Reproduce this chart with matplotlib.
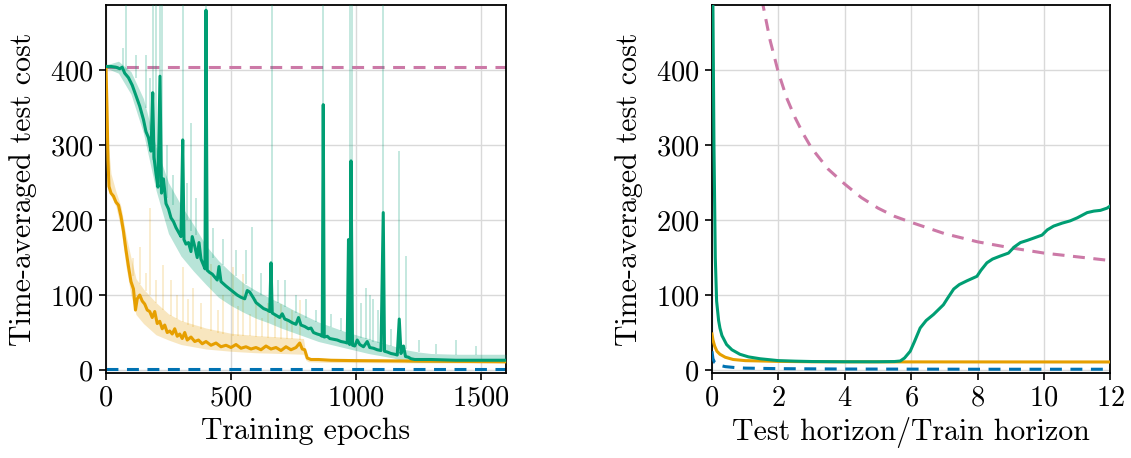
import numpy as np
import matplotlib
matplotlib.use('Agg')
from matplotlib import pyplot as plt

# === COLOURS === #
GREEN = '#009E73'
ORANGE = '#E69F00'
BLUE = '#0072B2'
PINK = '#CC79A7'

# === DATA: left panel (training curves) === #
green_epochs = [0, 20, 40, 55, 65, 75, 90, 105, 120, 135, 150, 160, 170, 180, 187, 192, 200, 208, 216, 222,
                230, 240, 250, 260, 270, 280, 290, 300, 307, 312, 320, 330, 340, 345, 355, 365, 372, 380, 390, 396,
                400, 405, 415, 425, 435, 445, 452, 460, 470, 480, 495, 510, 525, 540, 555, 565, 575, 590, 600, 615,
                630, 645, 655, 660, 665, 680, 695, 705, 715, 730, 745, 760, 770, 780, 795, 810, 820, 830, 845, 855,
                865, 869, 873, 885, 895, 910, 925, 940, 955, 965, 970, 975, 980, 986, 995, 1005, 1015, 1030, 1045, 1055,
                1070, 1085, 1100, 1109, 1114, 1125, 1140, 1155, 1165, 1173, 1180, 1190, 1198, 1210, 1220, 1235, 1260, 1300, 1350, 1400,
                1450, 1500, 1550, 1600]
green_mean = [405, 405, 404, 402, 404, 396, 390, 380, 366, 352, 334, 318, 310, 292, 370, 284, 262, 244, 392, 236,
              255, 222, 215, 203, 198, 190, 184, 178, 307, 174, 168, 170, 158, 178, 165, 150, 170, 148, 140, 135,
              480, 133, 130, 128, 124, 120, 138, 118, 115, 112, 108, 104, 100, 97, 95, 106, 104, 96, 90, 86,
              82, 80, 78, 143, 76, 73, 70, 75, 68, 66, 63, 61, 70, 60, 58, 55, 56, 50, 48, 47,
              45, 354, 44, 45, 42, 41, 40, 38, 37, 36, 174, 34, 279, 33, 32, 40, 34, 31, 38, 30,
              29, 27, 26, 210, 25, 24, 22, 21, 20, 68, 22, 32, 18, 17, 15, 14, 14, 14, 13.5, 13,
              13, 13, 13, 13]

band_epochs = [0, 50, 100, 150, 200, 250, 300, 350, 400, 450, 500, 550, 600, 650, 700, 750, 800, 850, 900, 950,
               1000, 1050, 1100, 1150, 1200, 1250, 1300, 1400, 1500, 1600]
green_lo = [403, 396, 368, 316, 240, 182, 152, 132, 114, 97, 86, 77, 69, 63, 56, 50, 44, 38, 34, 30,
            26, 22, 19, 16, 11, 10, 10, 10, 10, 10]
green_hi = [407, 412, 398, 362, 298, 250, 220, 194, 166, 146, 130, 116, 106, 97, 89, 80, 72, 64, 58, 52,
            47, 42, 37, 32, 27, 24, 22, 21, 21, 21]

green_spike_epochs = [70, 79, 120, 160, 175, 187, 200, 216, 226, 245, 270, 307, 325, 340, 360, 400, 430, 470, 520,
                      560, 583, 620, 663, 690, 715, 760, 800, 840, 869, 900, 940, 976, 986, 1020, 1040, 1055, 1070,
                      1090, 1109, 1140, 1173, 1200, 1250, 1320, 1400, 1480]
green_spike_base = [405, 400, 390, 350, 320, 280, 260, 250, 240, 230, 220, 210, 200, 185, 180, 160, 150, 140, 125,
                    115, 105, 100, 94, 90, 84, 76, 70, 64, 62, 58, 52, 46, 45, 43, 42, 40, 38,
                    36, 35, 32, 30, 28, 24, 22, 20, 20]
green_spike_top = [430, 500, 420, 420, 390, 500, 500, 500, 500, 300, 260, 500, 250, 330, 230, 500, 190, 175, 160,
                   160, 191, 130, 500, 120, 120, 100, 95, 80, 500, 75, 70, 500, 500, 90, 110, 100, 95,
                   80, 500, 55, 292, 152, 40, 35, 40, 32]

orange_epochs = [0, 4, 8, 12, 20, 30, 40, 50, 60, 70, 80, 90, 100, 110, 118, 125, 135, 145, 155, 165,
                 175, 185, 195, 205, 215, 225, 235, 245, 255, 265, 275, 285, 295, 305, 315, 325, 340, 355, 370, 385,
                 400, 420, 440, 460, 480, 500, 520, 540, 560, 580, 600, 620, 640, 660, 680, 700, 720, 740, 760, 775,
                 785, 795, 805, 820, 850, 900, 1000, 1200, 1400, 1600]
orange_mean = [405, 350, 280, 245, 236, 232, 224, 220, 205, 185, 160, 138, 118, 108, 80, 95, 100, 92, 88, 80,
               78, 70, 78, 62, 65, 55, 60, 50, 52, 48, 55, 45, 48, 42, 50, 40, 44, 38, 40, 35,
               38, 33, 36, 31, 33, 30, 34, 29, 31, 28, 30, 27, 32, 28, 30, 26, 31, 27, 30, 36,
               28, 27, 16, 14, 14, 13, 12.5, 12, 11.5, 11]

orange_band_epochs = [0, 10, 20, 40, 60, 80, 100, 120, 150, 200, 250, 300, 400, 500, 600, 700, 790, 800, 810, 900, 1600]
orange_lo = [400, 250, 232, 218, 188, 138, 100, 74, 62, 47, 40, 34, 28, 25, 23, 22, 21, 13, 11, 10, 9]
orange_hi = [408, 300, 262, 238, 218, 180, 150, 122, 108, 90, 75, 66, 56, 49, 46, 44, 42, 20, 16, 15, 13]

orange_spike_epochs = [110, 136, 160, 176, 200, 230, 260, 285, 309, 330, 350, 380, 421, 450, 470, 509, 530, 548,
                       575, 600, 625, 650, 675, 700, 725, 745, 776]
orange_spike_base = [125, 115, 105, 100, 90, 80, 72, 68, 64, 60, 58, 55, 52, 50, 48, 46, 46, 45,
                     45, 44, 44, 43, 43, 42, 42, 41, 40]
orange_spike_top = [150, 164, 130, 216, 120, 140, 120, 100, 138, 95, 110, 90, 142, 80, 100, 137, 85, 128,
                    75, 95, 70, 90, 72, 88, 70, 80, 93]

pink_left = 404
blue_left = 1.5

# === DATA: right panel (horizon generalisation) === #
green_r_x = [0.0, 0.03, 0.06, 0.1, 0.14, 0.2, 0.24, 0.3, 0.44, 0.6, 0.84, 1.1, 1.45, 2.0, 2.5, 3.0, 4.0, 5.0, 5.5, 5.67,
             5.8, 5.97, 6.1, 6.27, 6.45, 6.67, 6.97, 7.1, 7.28, 7.45, 7.68, 7.98, 8.1, 8.28, 8.45, 8.68, 8.93, 9.1, 9.29, 9.5,
             9.69, 9.94, 10.1, 10.29, 10.55, 10.79, 11.0, 11.3, 11.5, 11.7, 11.9, 12.0]
green_r_y = [600, 480, 300, 150, 92, 66, 56, 46, 34, 27, 21, 17.5, 15, 12.5, 11.8, 11.3, 11, 11, 11.3, 12,
             16, 25, 38, 56, 66, 74, 87, 96, 108, 114, 119, 125, 133, 143, 148, 152, 156, 164, 170, 173,
             176, 180, 187, 192, 196, 199, 203, 210, 212, 213, 216, 219]

orange_r_x = [0.0, 0.03, 0.08, 0.15, 0.24, 0.4, 0.64, 1.0, 2.0, 3.0, 6.0, 12.0]
orange_r_y = [48, 40, 32, 25, 21, 17, 14, 12.5, 11.5, 11, 10.8, 10.7]

blue_r_x = [0.0, 0.03, 0.08, 0.2, 0.4, 0.7, 1.0, 2.0, 4.0, 8.0, 12.0]
blue_r_y = [25, 15, 10, 6.5, 4.5, 3.2, 2.5, 1.8, 1.3, 1.0, 1.0]

pink_r_x = [1.5, 1.75, 2.0, 2.25, 2.5, 2.75, 3.0, 3.5, 4.0, 4.5, 5.0, 5.5, 6.0, 7.0, 8.0, 9.0, 10.0, 11.0, 12.0]
pink_r_y = [495, 440, 397, 363, 337, 315, 296, 268, 248, 230, 216, 205, 197, 182, 171, 163, 156, 151, 146]

# === STYLE === #
plt.rcParams['font.family'] = 'cmr10'
plt.rcParams['mathtext.fontset'] = 'cm'
plt.rcParams['axes.formatter.use_mathtext'] = True
TICK_FS = 20.5
LABEL_FS = 21.5
LW = 2.2
DASH = (0, (3.9, 2.8))
YLIM = (-4, 487)


def StyleAxis(ax, xlabel):
    ax.set_ylim(YLIM)
    ax.set_yticks([0, 100, 200, 300, 400])
    ax.set_xlabel(xlabel, fontsize=LABEL_FS, labelpad=4)
    ax.set_ylabel('Time-averaged test cost', fontsize=LABEL_FS, labelpad=9)
    ax.tick_params(labelsize=TICK_FS, direction='out', length=5, width=1.2, pad=4)
    ax.grid(color='#d9d9d9', linewidth=1.0)
    ax.set_axisbelow(True)
    for s in ax.spines.values():
        s.set_linewidth(1.3)


fig = plt.figure(figsize=(11.31, 4.58), dpi=100)
ax1 = fig.add_axes([0.0937, 0.1856, 0.3537, 0.8035])
ax2 = fig.add_axes([0.6295, 0.1856, 0.3523, 0.8035])

# --- left --- #
ax1.axhline(pink_left, color=PINK, lw=LW, ls=DASH, zorder=2)
ax1.axhline(blue_left, color=BLUE, lw=LW, ls=DASH, zorder=2)
ax1.fill_between(orange_band_epochs, orange_lo, orange_hi, color=ORANGE, alpha=0.25, lw=0, zorder=3)
ax1.vlines(orange_spike_epochs, orange_spike_base, orange_spike_top, color=ORANGE, alpha=0.22, lw=1.2, zorder=3)
ax1.fill_between(band_epochs, green_lo, green_hi, color=GREEN, alpha=0.28, lw=0, zorder=3)
ax1.vlines(green_spike_epochs, green_spike_base, green_spike_top, color=GREEN, alpha=0.25, lw=1.3, zorder=3)
ax1.plot(orange_epochs, orange_mean, color=ORANGE, lw=LW, zorder=4)
ax1.plot(green_epochs, green_mean, color=GREEN, lw=LW, zorder=5)
ax1.set_xlim(0, 1600)
ax1.set_xticks([0, 500, 1000, 1500])
StyleAxis(ax1, 'Training epochs')

# --- right --- #
ax2.plot(pink_r_x, pink_r_y, color=PINK, lw=LW, ls=DASH, zorder=2)
ax2.plot(blue_r_x, blue_r_y, color=BLUE, lw=LW, ls=DASH, zorder=3)
ax2.plot(orange_r_x, orange_r_y, color=ORANGE, lw=LW, zorder=4)
ax2.plot(green_r_x, green_r_y, color=GREEN, lw=LW, zorder=5)
ax2.set_xlim(0, 12)
ax2.set_xticks([0, 2, 4, 6, 8, 10, 12])
StyleAxis(ax2, 'Test horizon/Train horizon')

fig.savefig('out.png', dpi=100)
